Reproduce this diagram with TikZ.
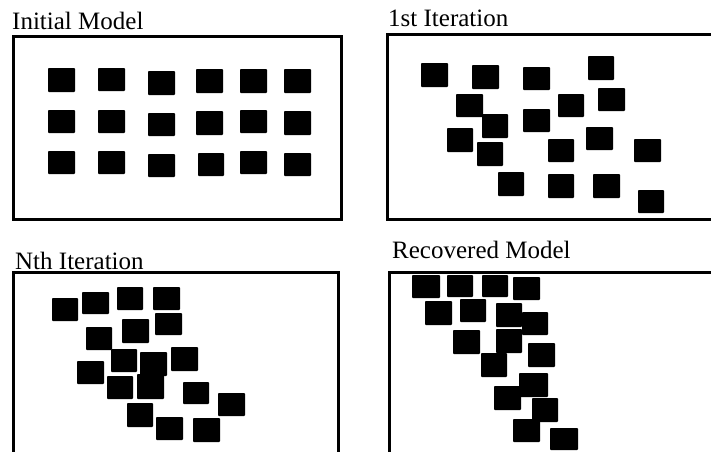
\documentclass[tikz,border=0pt]{standalone}
\usepackage{fontspec}
\setmainfont{Liberation Serif}

\tikzset{
  frame/.style={draw=black, line width=3pt},
  blk/.style={fill=black, rounded corners=0.8pt},
  title/.style={anchor=base west, inner sep=0pt, font=\fontsize{25}{29}\selectfont}
}

\begin{document}
\begin{tikzpicture}[x=1pt, y=-1pt]
    \useasboundingbox (0,0) rectangle (711,451);
    \clip (0,0) rectangle (711,451);

    % Initial Model
    \node[title] (tInit) at (12,29.3) {Initial Model};
    \draw[frame] (13.3,36.7) rectangle (341,219);
    \foreach \a/\b/\c/\d in {48/68/75/92, 98/68/125/91, 148/71/175/95, 196/69/223/93, 240/69/267/93, 284/69/311/93,
                             48/110/75/133, 98/110/125/133, 148/113/175/136, 196/111/223/135, 240/110/267/133, 284/111/311/135,
                             48/151/75/174, 98/151/125/174, 148/154/175/177, 198/153/224/176, 240/151/267/174, 284/153/311/176}
      \fill[blk] (\a,\b) rectangle (\c,\d);

    % 1st Iteration
    \node[title] (tFirst) at (388,26.7) {1st Iteration};
    \draw[frame] (387,34.7) rectangle (725,219.5);
    \foreach \a/\b/\c/\d in {421/63/448/87, 472/65/499/89, 523/67/550/90, 588/56/614/80,
                             456/94/483/117, 558/94/584/117, 598/88/625/111, 482/114/508/138, 523/109/550/132,
                             447/128/473/152, 477/142/503/166, 548/139/574/162, 586/127/613/150, 634/139/661/162,
                             498/172/524/196, 548/174/574/198, 593/174/620/198, 638/190/664/213}
      \fill[blk] (\a,\b) rectangle (\c,\d);

    % Nth Iteration
    \node[title] (tNth) at (15,269.3) {Nth Iteration};
    \draw[frame] (13.3,272.5) rectangle (338,470);
    \foreach \a/\b/\c/\d in {52/298/78/321, 82/292/109/314, 117/287/143/310, 153/287/180/310, 155/313/182/335,
                             86/327/112/350, 122/319/149/343, 111/349/137/372, 140/352/167/376, 171/347/198/371,
                             77/361/104/384, 107/376/133/399, 137/374/164/399, 183/382/209/404, 218/393/245/416,
                             127/403/153/427, 156/417/183/440, 193/418/220/442}
      \fill[blk] (\a,\b) rectangle (\c,\d);

    % Recovered Model
    \node[title] (tRec) at (392,258.3) {Recovered Model};
    \draw[frame] (389,272) rectangle (725,470);
    \foreach \a/\b/\c/\d in {412/275/440/298, 447/275/473/297, 482/275/508/297, 513/277/540/300,
                             425/301/452/325, 460/299/486/322, 496/303/522/327, 522/312/548/335,
                             453/330/480/354, 496/329/522/353, 528/343/555/367, 481/353/507/377,
                             519/373/548/397, 494/386/521/410, 532/398/558/422, 513/419/540/442, 550/428/578/450}
      \fill[blk] (\a,\b) rectangle (\c,\d);
\end{tikzpicture}
\end{document}
